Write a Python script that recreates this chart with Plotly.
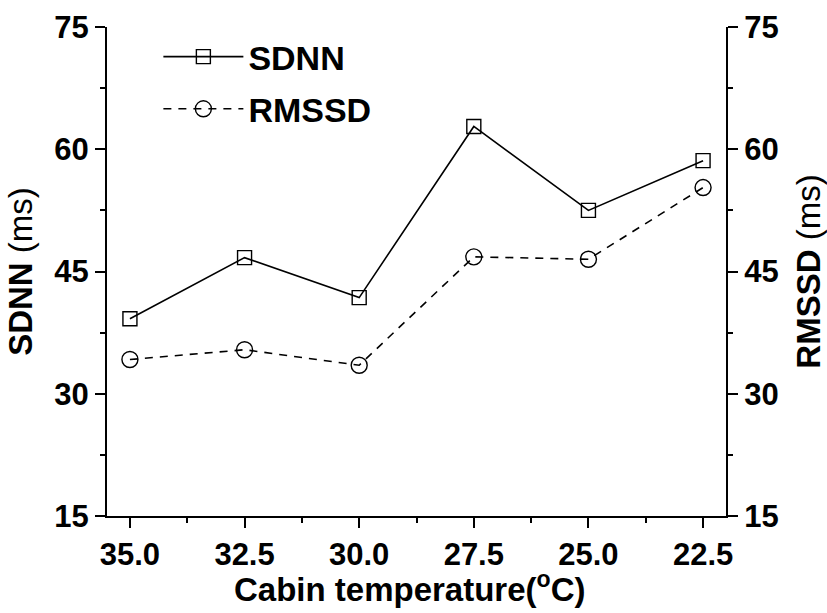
import plotly.graph_objects as go

# Cabin temperature levels (°C) and heart-rate-variability indices (ms)
temperature = [35.0, 32.5, 30.0, 27.5, 25.0, 22.5]
sdnn = [39.2, 46.7, 41.8, 62.8, 52.5, 58.6]
rmssd = [34.2, 35.4, 33.5, 46.8, 46.5, 55.3]

x_ticks = [35.0, 32.5, 30.0, 27.5, 25.0, 22.5]
y_ticks = [15, 30, 45, 60, 75]

FONT = "Liberation Sans"

fig = go.Figure()

fig.add_trace(go.Scatter(
    x=temperature, y=sdnn, name="SDNN", mode="lines+markers",
    line=dict(color="black", width=1.6),
    marker=dict(symbol="square-open", size=14, color="black", line=dict(width=1.4)),
    legendgroup="a", xaxis="x", yaxis="y",
))
fig.add_trace(go.Scatter(
    x=temperature, y=rmssd, name="RMSSD", mode="lines+markers",
    line=dict(color="black", width=1.6, dash="8px,7px"),
    marker=dict(symbol="circle-open", size=16, color="black", line=dict(width=1.4)),
    legendgroup="b", xaxis="x", yaxis="y2",
))

axis_common = dict(
    showgrid=False, zeroline=False, showline=True, linecolor="black", linewidth=2,
    ticks="outside", tickcolor="black", tickwidth=2, ticklen=10, automargin=False,
    tickfont=dict(family=FONT, size=31, color="black", weight="bold"),
)

fig.update_layout(
    width=827, height=613,
    margin=dict(l=107, r=101, t=27, b=97),
    paper_bgcolor="white", plot_bgcolor="white",
    showlegend=True,
    legend=dict(
        x=0.083, y=0.998, xanchor="left", yanchor="top",
        bgcolor="rgba(0,0,0,0)", borderwidth=0,
        font=dict(family=FONT, size=34, color="black", weight="bold"),
        itemwidth=80, tracegroupgap=5,
    ),
    xaxis=dict(
        **axis_common,
        range=[35.5, 22.0], tickvals=x_ticks, ticktext=[f"{v:.1f}" for v in x_ticks],
        minor=dict(ticks="outside", ticklen=5, tickwidth=2, tickcolor="black", dtick=1.25, tick0=22.5),
    ),
    xaxis2=dict(
        overlaying="x", side="top", range=[35.5, 22.0], showgrid=False, zeroline=False,
        showline=True, linecolor="black", linewidth=2, showticklabels=False, automargin=False,
        ticks="inside", ticklen=3, tickwidth=1.5, tickcolor="black", dtick=1.25, tick0=22.5,
    ),
    yaxis=dict(
        **axis_common,
        range=[15, 75], tickvals=y_ticks,
        minor=dict(ticks="outside", ticklen=5, tickwidth=2, tickcolor="black", dtick=7.5, tick0=15),
        title=dict(text="<b>SDNN</b> (ms)", standoff=12,
                   font=dict(family=FONT, size=33, color="black")),
    ),
    yaxis2=dict(
        **axis_common,
        overlaying="y", side="right",
        range=[15, 75], tickvals=y_ticks,
        minor=dict(ticks="outside", ticklen=5, tickwidth=2, tickcolor="black", dtick=7.5, tick0=15),
        title=dict(text="<b>RMSSD</b> (ms)", standoff=20,
                   font=dict(family=FONT, size=33, color="black")),
    ),
    annotations=[dict(
        text="Cabin temperature(<sup>o</sup>C)", xref="paper", yref="paper",
        x=0.49, y=-0.145, xanchor="center", yanchor="middle", showarrow=False,
        font=dict(family=FONT, size=33, color="black", weight="bold"),
    )],
)

fig.write_html("out.html")
